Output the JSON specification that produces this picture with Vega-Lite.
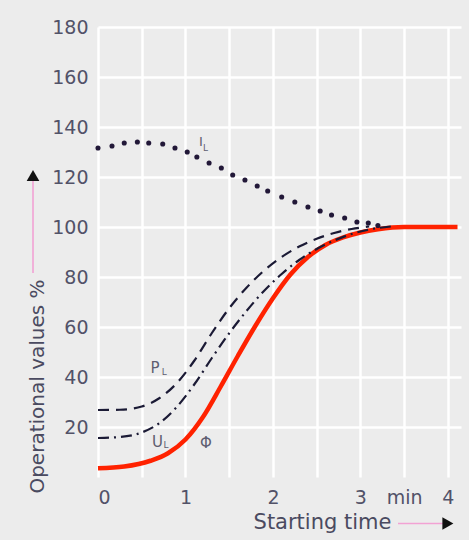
{
  "$schema": "https://vega.github.io/schema/vega-lite/v6.json",
  "width": 363,
  "height": 450,
  "autosize": {"type": "none"},
  "padding": {"left": 98, "top": 27, "right": 8, "bottom": 63},
  "background": "#ececec",
  "config": {
    "view": {"stroke": null, "fill": "#ececec"},
    "font": "DejaVu Sans"
  },
  "datasets": {
    "curves": [
      {"series": "Phi", "t": 0, "v": 3.5},
      {"series": "Phi", "t": 0.3, "v": 4.2},
      {"series": "Phi", "t": 0.6, "v": 6.5},
      {"series": "Phi", "t": 0.8, "v": 9.5},
      {"series": "Phi", "t": 1.0, "v": 15},
      {"series": "Phi", "t": 1.2, "v": 24},
      {"series": "Phi", "t": 1.4, "v": 36},
      {"series": "Phi", "t": 1.6, "v": 48.5},
      {"series": "Phi", "t": 1.8, "v": 60.5},
      {"series": "Phi", "t": 2.0, "v": 71.5},
      {"series": "Phi", "t": 2.2, "v": 81},
      {"series": "Phi", "t": 2.4, "v": 88},
      {"series": "Phi", "t": 2.6, "v": 92.8},
      {"series": "Phi", "t": 2.8, "v": 95.8},
      {"series": "Phi", "t": 3.0, "v": 97.8},
      {"series": "Phi", "t": 3.2, "v": 99.1},
      {"series": "Phi", "t": 3.5, "v": 100},
      {"series": "Phi", "t": 4.11, "v": 100},

      {"series": "UL", "t": 0, "v": 15.6},
      {"series": "UL", "t": 0.25, "v": 16},
      {"series": "UL", "t": 0.5, "v": 17.8},
      {"series": "UL", "t": 0.7, "v": 21.5},
      {"series": "UL", "t": 0.9, "v": 28},
      {"series": "UL", "t": 1.1, "v": 37},
      {"series": "UL", "t": 1.3, "v": 47.5},
      {"series": "UL", "t": 1.5, "v": 57.5},
      {"series": "UL", "t": 1.7, "v": 66.5},
      {"series": "UL", "t": 1.9, "v": 74.5},
      {"series": "UL", "t": 2.1, "v": 81.2},
      {"series": "UL", "t": 2.3, "v": 86.8},
      {"series": "UL", "t": 2.5, "v": 91.2},
      {"series": "UL", "t": 2.7, "v": 94.6},
      {"series": "UL", "t": 2.9, "v": 97.2},
      {"series": "UL", "t": 3.1, "v": 99},
      {"series": "UL", "t": 3.35, "v": 100.2},

      {"series": "PL", "t": 0, "v": 26.8},
      {"series": "PL", "t": 0.25, "v": 26.9},
      {"series": "PL", "t": 0.5, "v": 28.2},
      {"series": "PL", "t": 0.7, "v": 31.5},
      {"series": "PL", "t": 0.9, "v": 37.5},
      {"series": "PL", "t": 1.1, "v": 46.5},
      {"series": "PL", "t": 1.3, "v": 57.5},
      {"series": "PL", "t": 1.5, "v": 67.5},
      {"series": "PL", "t": 1.7, "v": 75.8},
      {"series": "PL", "t": 1.9, "v": 82.6},
      {"series": "PL", "t": 2.1, "v": 88},
      {"series": "PL", "t": 2.3, "v": 92.2},
      {"series": "PL", "t": 2.5, "v": 95.3},
      {"series": "PL", "t": 2.7, "v": 97.6},
      {"series": "PL", "t": 2.9, "v": 99.2},
      {"series": "PL", "t": 3.1, "v": 100.2}
    ],
    "current": [
      {"t": 0, "v": 131.6},
      {"t": 0.16, "v": 132.4},
      {"t": 0.3, "v": 133.6},
      {"t": 0.45, "v": 134},
      {"t": 0.58, "v": 133.6},
      {"t": 0.74, "v": 133.2},
      {"t": 0.88, "v": 131.6},
      {"t": 1.02, "v": 130},
      {"t": 1.13, "v": 128},
      {"t": 1.27, "v": 125.6},
      {"t": 1.41, "v": 123.6},
      {"t": 1.54, "v": 120.8},
      {"t": 1.68, "v": 118.8},
      {"t": 1.82, "v": 116.4},
      {"t": 1.94, "v": 114.4},
      {"t": 2.1, "v": 112},
      {"t": 2.25, "v": 110},
      {"t": 2.4, "v": 108},
      {"t": 2.54, "v": 106.4},
      {"t": 2.67, "v": 104.8},
      {"t": 2.82, "v": 103.6},
      {"t": 2.96, "v": 102},
      {"t": 3.09, "v": 101.6},
      {"t": 3.2, "v": 100.6}
    ],
    "arrowShafts": [
      {"t": 3.43, "t2": 3.95, "v": -18.6, "v2": -18.6},
      {"t": -0.743, "t2": -0.743, "v": 81.6, "v2": 119}
    ],
    "arrowHeads": [
      {"t": 4.0, "v": -18.6, "shape": "triangle-right"},
      {"t": -0.743, "v": 120.6, "shape": "triangle-up"}
    ],
    "tags": [
      {"txt": "I", "t": 1.155, "v": 134.1},
      {"txt": "P", "t": 0.6, "v": 43.8},
      {"txt": "U", "t": 0.617, "v": 14.2},
      {"txt": "Φ", "t": 1.166, "v": 13.8}
    ],
    "subs": [
      {"txt": "L", "t": 1.2, "v": 131.8},
      {"txt": "L", "t": 0.73, "v": 42.2},
      {"txt": "L", "t": 0.75, "v": 12.8}
    ]
  },
  "layer": [
    {
      "data": {"name": "curves"},
      "transform": [{"filter": "datum.series === 'Phi'"}],
      "mark": {"type": "line", "color": "#ff2200", "strokeWidth": 4.5, "interpolate": "monotone"},
      "encoding": {
        "x": {
          "field": "t", "type": "quantitative",
          "scale": {"domain": [0, 4.15], "nice": false},
          "axis": {
            "values": [0, 0.5, 1, 1.5, 2, 2.5, 3, 3.5, 4],
            "labelExpr": "datum.value == 3.5 ? 'min' : (datum.value % 1 == 0 ? format(datum.value, 'd') : '')",
            "domain": false, "ticks": false,
            "grid": true, "gridColor": "#ffffff", "gridWidth": 2.5,
            "labelFontSize": 19, "labelColor": "#525268", "labelPadding": 11,
            "labelFont": "DejaVu Sans",
            "title": "Starting time",
            "titleFontSize": 21, "titleColor": "#4a4a60", "titleFontWeight": "normal",
            "titleFont": "DejaVu Sans",
            "titleX": 224, "titleY": 45, "titleAlign": "center", "titleBaseline": "middle"
          }
        },
        "y": {
          "field": "v", "type": "quantitative",
          "scale": {"domain": [0, 180], "nice": false},
          "axis": {
            "values": [20, 40, 60, 80, 100, 120, 140, 160, 180],
            "domain": false, "ticks": false,
            "grid": true, "gridColor": "#ffffff", "gridWidth": 2.5,
            "labelFontSize": 19, "labelColor": "#525268", "labelPadding": 10,
            "labelFont": "DejaVu Sans",
            "title": "Operational values %",
            "titleFontSize": 20, "titleColor": "#4a4a60", "titleFontWeight": "normal",
            "titleFont": "DejaVu Sans",
            "titleAngle": 270, "titleX": -61, "titleY": 359,
            "titleAlign": "center", "titleBaseline": "middle"
          }
        }
      }
    },
    {
      "data": {"name": "curves"},
      "transform": [{"filter": "datum.series === 'UL'"}],
      "mark": {"type": "line", "color": "#1b1a35", "strokeWidth": 2.2, "strokeDash": [11, 5, 2, 5], "interpolate": "monotone"},
      "encoding": {
        "x": {"field": "t", "type": "quantitative", "scale": {"domain": [0, 4.15], "nice": false}},
        "y": {"field": "v", "type": "quantitative", "scale": {"domain": [0, 180], "nice": false}}
      }
    },
    {
      "data": {"name": "curves"},
      "transform": [{"filter": "datum.series === 'PL'"}],
      "mark": {"type": "line", "color": "#1b1a35", "strokeWidth": 2.2, "strokeDash": [11, 7], "interpolate": "monotone"},
      "encoding": {
        "x": {"field": "t", "type": "quantitative", "scale": {"domain": [0, 4.15], "nice": false}},
        "y": {"field": "v", "type": "quantitative", "scale": {"domain": [0, 180], "nice": false}}
      }
    },
    {
      "data": {"name": "current"},
      "mark": {"type": "point", "filled": true, "size": 26, "color": "#221838", "opacity": 1},
      "encoding": {
        "x": {"field": "t", "type": "quantitative", "scale": {"domain": [0, 4.15], "nice": false}},
        "y": {"field": "v", "type": "quantitative", "scale": {"domain": [0, 180], "nice": false}}
      }
    },
    {
      "data": {"name": "arrowShafts"},
      "mark": {"type": "rule", "color": "#f2a2d4", "strokeWidth": 1.6},
      "encoding": {
        "x": {"field": "t", "type": "quantitative", "scale": {"domain": [0, 4.15], "nice": false}},
        "x2": {"field": "t2"},
        "y": {"field": "v", "type": "quantitative", "scale": {"domain": [0, 180], "nice": false}},
        "y2": {"field": "v2"}
      }
    },
    {
      "data": {"name": "arrowHeads"},
      "mark": {"type": "point", "filled": true, "size": 160, "color": "#111111", "opacity": 1},
      "encoding": {
        "x": {"field": "t", "type": "quantitative", "scale": {"domain": [0, 4.15], "nice": false}},
        "y": {"field": "v", "type": "quantitative", "scale": {"domain": [0, 180], "nice": false}},
        "shape": {"field": "shape", "type": "nominal", "scale": null}
      }
    },
    {
      "data": {"name": "tags"},
      "mark": {"type": "text", "align": "left", "baseline": "middle", "color": "#5e5e70", "font": "DejaVu Sans"},
      "encoding": {
        "x": {"field": "t", "type": "quantitative", "scale": {"domain": [0, 4.15], "nice": false}},
        "y": {"field": "v", "type": "quantitative", "scale": {"domain": [0, 180], "nice": false}},
        "text": {"field": "txt"},
        "size": {"condition": {"test": "datum.txt === 'I'", "value": 13}, "value": 15}
      }
    },
    {
      "data": {"name": "subs"},
      "mark": {"type": "text", "align": "left", "baseline": "middle", "color": "#5e5e70", "font": "DejaVu Sans", "fontSize": 9},
      "encoding": {
        "x": {"field": "t", "type": "quantitative", "scale": {"domain": [0, 4.15], "nice": false}},
        "y": {"field": "v", "type": "quantitative", "scale": {"domain": [0, 180], "nice": false}},
        "text": {"field": "txt"}
      }
    }
  ]
}
